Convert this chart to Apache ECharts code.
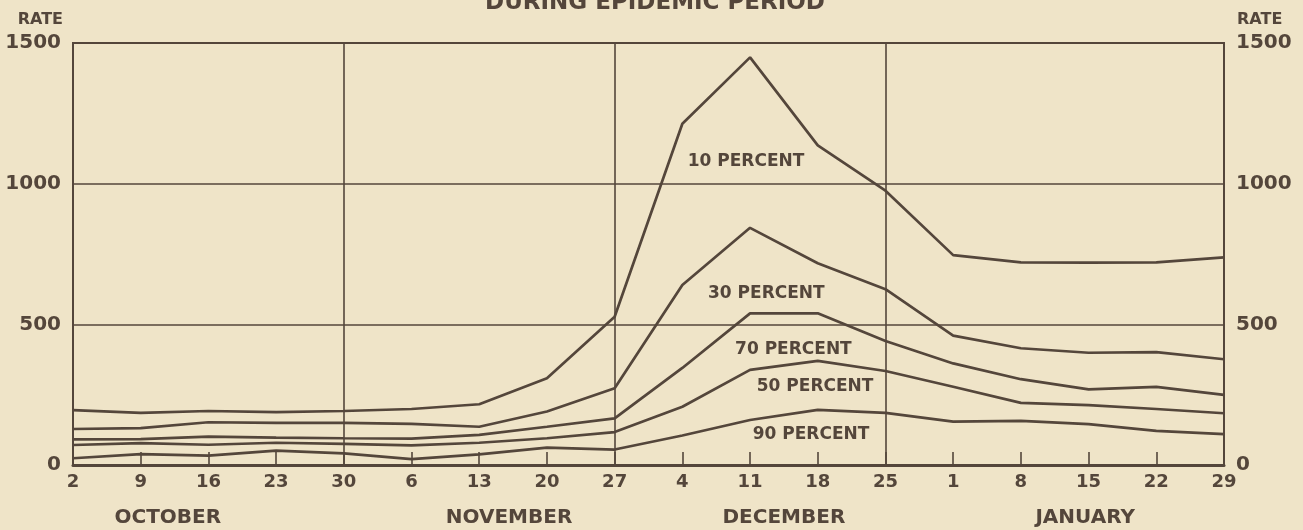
<!DOCTYPE html>
<html>
<head>
<meta charset="utf-8">
<script src="https://cdn.jsdelivr.net/npm/echarts@6/dist/echarts.min.js"></script>
<style>
html,body{margin:0;padding:0;background:#efe4c8;}
#chart{width:1303px;height:530px;}
</style>
</head>
<body>
<div id="chart"></div>
<script>
// weekly rates, 2 Oct - 29 Jan
var weeks = ['2','9','16','23','30','6','13','20','27','4','11','18','25','1','8','15','22','29'];
var months = ['OCTOBER','NOVEMBER','DECEMBER','JANUARY'];
var rateTicks = [0, 500, 1000, 1500];
var seriesNames = ['10 PERCENT','30 PERCENT','70 PERCENT','50 PERCENT','90 PERCENT'];

var pct10 = [195,185,192,188,192,199,216,308,527,1213,1449,1136,975,746,720,719,720,738];
var pct30 = [128,131,152,150,150,146,136,190,273,640,843,717,625,460,415,399,401,376];
var pct70 = [91,92,101,97,95,94,107,136,166,345,539,539,441,361,305,269,278,249];
var pct50 = [71,78,72,79,75,70,79,95,117,207,338,370,334,278,221,213,199,184];
var pct90 = [24,39,33,51,41,21,38,62,55,105,160,196,185,154,157,145,121,110];

var ink = '#54463b';
var font = 'DejaVu Sans';

var chart = echarts.init(document.getElementById('chart'));

function line(name, vals){
    return {
        name: name,
        type: 'line',
        data: vals.map(function(v, i){ return [i, v]; }),
        symbol: 'none',
        silent: true,
        lineStyle: {color: ink, width: 2.7}
    };
}
var series = [line(seriesNames[0], pct10), line(seriesNames[1], pct30), line(seriesNames[2], pct70),
              line(seriesNames[3], pct50), line(seriesNames[4], pct90)];
// month dividers
series[0].markLine = {
    symbol: 'none', silent: true, label: {show: false},
    lineStyle: {color: ink, width: 1.6, type: 'solid'},
    data: [{xAxis: 4}, {xAxis: 8}, {xAxis: 12}]
};

function rateAxis(pos){
    return {
        type: 'value', position: pos, min: rateTicks[0], max: rateTicks[rateTicks.length - 1],
        interval: rateTicks[1] - rateTicks[0],
        name: 'RATE', nameLocation: 'end', nameGap: 15,
        nameTextStyle: {color: ink, fontFamily: font, fontSize: 16, fontWeight: 'bold',
            align: pos == 'left' ? 'right' : 'left',
            padding: pos == 'left' ? [0, 10, 0, 0] : [0, 0, 0, 13]},
        axisLine: {show: false}, axisTick: {show: false},
        splitLine: {show: pos == 'left', lineStyle: {color: ink, width: 1.5}},
        axisLabel: {margin: 12, color: ink, fontFamily: font, fontSize: 20, fontWeight: 'bold',
            formatter: function(v){ return String(v); }}
    };
}

chart.setOption({
    animation: false,
    backgroundColor: '#efe4c8',
    grid: {left: 73, right: 79, top: 43, bottom: 65, show: true, borderColor: ink, borderWidth: 2},
    xAxis: {
        type: 'value', min: 0, max: weeks.length - 1, interval: 1,
        axisLine: {show: true, onZero: false, lineStyle: {color: ink, width: 3}},
        axisTick: {show: true, inside: true, length: 13, lineStyle: {color: ink, width: 1.6}},
        splitLine: {show: false},
        axisLabel: {margin: 8, color: ink, fontFamily: font, fontSize: 18, fontWeight: 'bold',
            formatter: function(v){ return weeks[v]; }}
    },
    yAxis: [rateAxis('left'), rateAxis('right')],
    series: series
});

// text placed from data coordinates
var labelSpots = [[9.94, 1077], [10.24, 611], [10.64, 412], [10.96, 277], [10.9, 107]];
var monthSpots = [1.4, 6.44, 10.5, 14.95];
var graphics = [{
    type: 'text', x: 655, y: 3,
    style: {text: 'DURING EPIDEMIC PERIOD', fill: ink, font: 'bold 23px "' + font + '"', align: 'center', verticalAlign: 'middle'}
}];
labelSpots.forEach(function(s, i){
    var p = chart.convertToPixel({gridIndex: 0}, s);
    graphics.push({type: 'text', x: p[0], y: p[1],
        style: {text: seriesNames[i], fill: ink, font: 'bold 17px "' + font + '"', align: 'center', verticalAlign: 'middle'}});
});
monthSpots.forEach(function(m, i){
    var px = chart.convertToPixel({xAxisIndex: 0}, m);
    graphics.push({type: 'text', x: px, y: 518,
        style: {text: months[i], fill: ink, font: 'bold 20px "' + font + '"', align: 'center', verticalAlign: 'middle'}});
});
chart.setOption({graphic: graphics});
</script>
</body>
</html>
